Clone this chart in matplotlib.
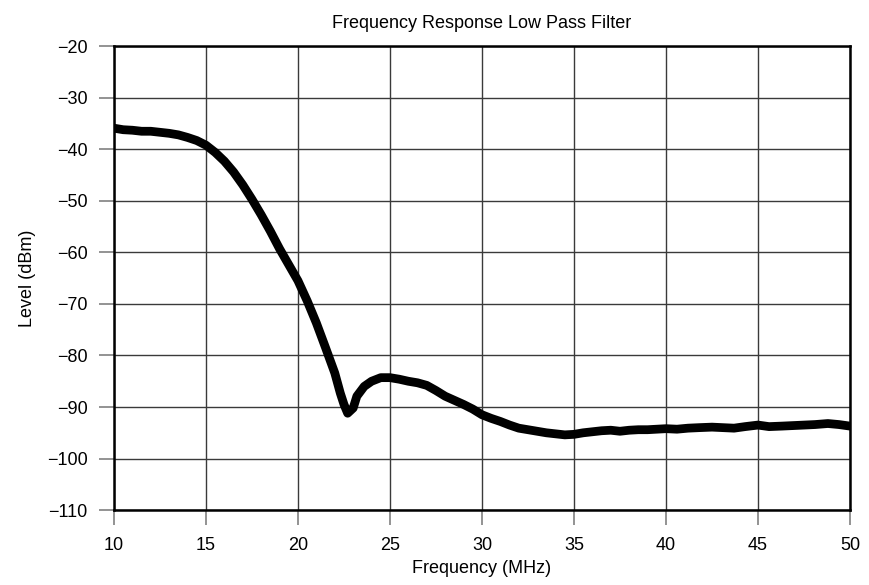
import matplotlib
matplotlib.use("Agg")
import matplotlib.pyplot as plt

plt.rcParams['font.family'] = ['Liberation Sans', 'DejaVu Sans']

# values
freq_mhz = [10.0, 10.5, 11.0, 11.5, 12.0, 12.5, 13.0, 13.5, 14.0, 14.5,
            15.0, 15.5, 16.0, 16.5, 17.0, 17.5, 18.0, 18.5, 19.0, 19.5,
            20.0, 20.5, 21.0, 21.5, 22.0, 22.3, 22.5, 22.7, 23.0, 23.2,
            23.6, 24.0, 24.5, 25.0, 25.5, 26.0, 26.5, 27.0, 27.5, 28.0,
            28.5, 29.0, 29.5, 30.0, 30.5, 31.0, 31.5, 32.0, 32.5, 33.0,
            33.5, 34.0, 34.5, 35.0, 35.5, 36.0, 36.5, 37.0, 37.5, 38.0,
            38.5, 39.0, 39.5, 40.0, 40.6, 41.2, 41.8, 42.5, 43.1, 43.7,
            44.3, 45.0, 45.6, 46.3, 46.9, 47.5, 48.1, 48.8, 49.4, 50.0]
level_dbm = [-35.9, -36.2, -36.3, -36.5, -36.5, -36.7, -36.9, -37.2, -37.7, -38.3,
             -39.2, -40.6, -42.3, -44.4, -46.9, -49.7, -52.7, -55.9, -59.3, -62.4,
             -65.5, -69.4, -73.7, -78.5, -83.4, -87.3, -89.5, -91.2, -90.2, -87.9,
             -86.0, -85.0, -84.3, -84.3, -84.6, -85.0, -85.3, -85.8, -86.8, -87.9,
             -88.7, -89.5, -90.4, -91.5, -92.2, -92.8, -93.5, -94.1, -94.4, -94.7,
             -95.0, -95.2, -95.4, -95.3, -95.0, -94.8, -94.6, -94.5, -94.7, -94.5,
             -94.4, -94.4, -94.3, -94.2, -94.3, -94.1, -94.0, -93.9, -94.0, -94.1,
             -93.8, -93.5, -93.8, -93.7, -93.6, -93.5, -93.4, -93.2, -93.4, -93.7]

x_ticks = [10, 15, 20, 25, 30, 35, 40, 45, 50]
y_ticks = [-20, -30, -40, -50, -60, -70, -80, -90, -100, -110]

fig = plt.figure(figsize=(8.7, 5.85), dpi=100)
ax = fig.add_axes([0.131, 0.128, 0.846, 0.793])

ax.plot(freq_mhz, level_dbm, color='black', linewidth=6.3,
        solid_capstyle='round', solid_joinstyle='round', zorder=3)

ax.set_xlim(10, 50)
ax.set_ylim(-110, -20)
ax.set_xticks(x_ticks)
ax.set_yticks(y_ticks)
ax.set_yticklabels(['\u2212' + str(abs(v)) for v in y_ticks])
ax.grid(True, color='#3a3a3a', linewidth=1.0)
ax.set_axisbelow(True)

for sp in ax.spines.values():
    sp.set_linewidth(1.8)
    sp.set_color('black')

ax.tick_params(axis='both', direction='out', length=11, width=1.2,
               color='#808080', labelsize=13, pad=8)

ax.set_title('Frequency Response Low Pass Filter', fontsize=13, pad=13)
ax.set_xlabel('Frequency (MHz)', fontsize=13, labelpad=5)
ax.set_ylabel('Level (dBm)', fontsize=13, labelpad=8)

fig.savefig('out.png', dpi=100)
